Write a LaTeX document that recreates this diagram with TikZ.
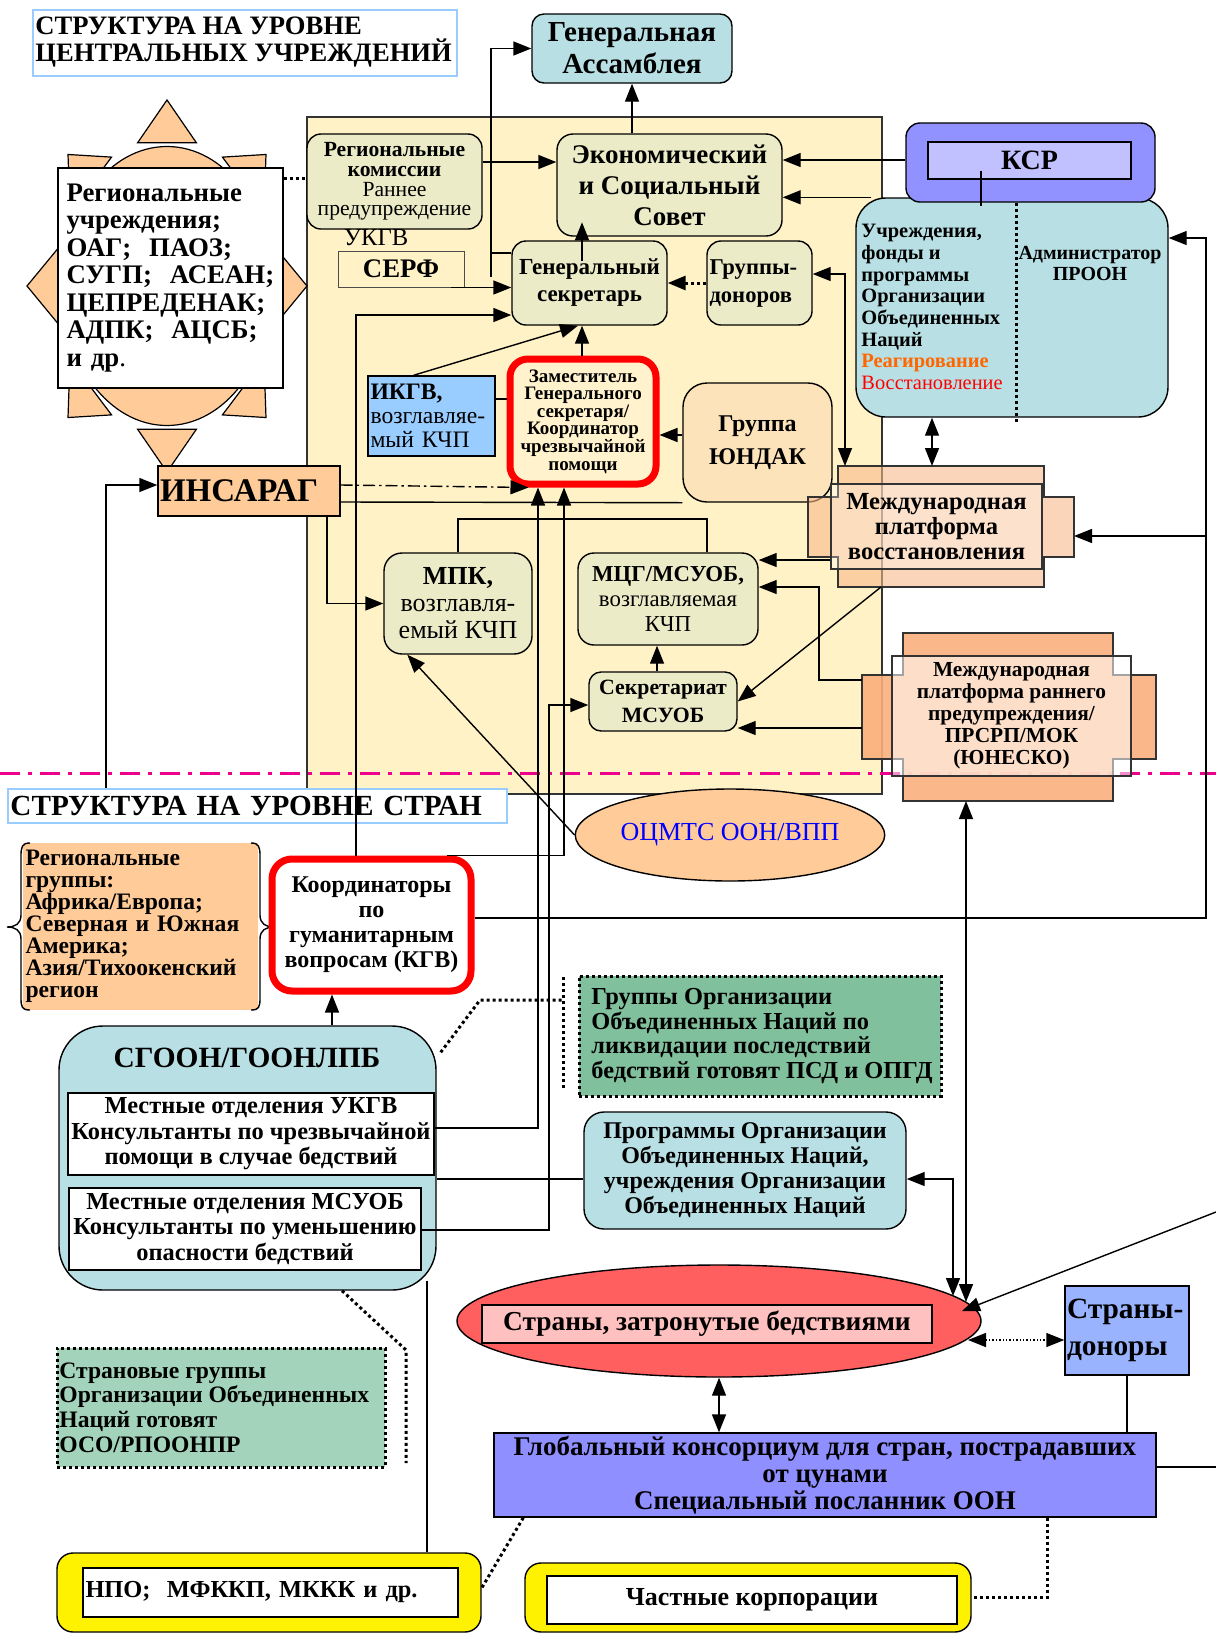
\documentclass[tikz,border=0pt]{standalone}
\usepackage{fontspec}
\setmainfont{Liberation Serif}
\usetikzlibrary{arrows.meta,shapes.geometric}

\newcommand{\fsz}[2]{\fontsize{#1}{#2}\selectfont}

\definecolor{panel}{HTML}{FFF2C7}
\definecolor{tealbox}{HTML}{B8E0E4}
\definecolor{khakibox}{HTML}{EBEBC8}
\definecolor{peach}{HTML}{FFCC99}
\definecolor{ksrdark}{HTML}{9191FF}
\definecolor{ksrlight}{HTML}{C1C1FF}
\definecolor{ikgvblue}{HTML}{99CCFF}
\definecolor{undac}{HTML}{FDE3BA}
\definecolor{depcream}{HTML}{FFF2CC}
\definecolor{mpvfill}{HTML}{F9B98A}
\definecolor{pprpfill}{HTML}{FAAF7C}
\definecolor{ungreen}{HTML}{80C09C}
\definecolor{cgreen}{HTML}{A3D4BB}
\definecolor{affred}{HTML}{FF5F5F}
\definecolor{affpink}{HTML}{FFC0C0}
\definecolor{donorblue}{HTML}{99B3FF}
\definecolor{globblue}{HTML}{8F8FFF}
\definecolor{titleblue}{HTML}{99CCFF}
\definecolor{reagorange}{HTML}{FF6600}
\definecolor{linkblue}{HTML}{0000FF}

\tikzset{
  box/.style={draw=black, line width=0.7pt, align=center, inner sep=1pt},
  rbox/.style={box, rounded corners=7pt},
  redbox/.style={box, draw=red, line width=3.5pt, rounded corners=9pt},
  titlebox/.style={draw=titleblue, line width=1pt, align=left, inner sep=1pt},
  crossfill/.style={draw=black!80, line width=0.6pt},
  arr/.style={line width=0.7pt, -{Triangle[length=9pt,width=7pt]}},
  dbl/.style={line width=0.7pt, {Triangle[length=9pt,width=7pt]}-{Triangle[length=9pt,width=7pt]}},
  dots/.style={line width=1.5pt, dash pattern=on 1.5pt off 1.5pt},
  link/.style={line width=0.7pt}
}

\begin{document}
\begin{tikzpicture}[x=0.5pt,y=-0.5pt]
\useasboundingbox (0,0) rectangle (1216,1634);

% central level panel
\filldraw[fill=panel, draw=black!80, line width=0.7pt] (307,117) rectangle (882,794);
\draw[magenta, line width=1.5pt, dash pattern=on 10pt off 4pt on 2pt off 4pt] (0,773) -- (1216,773);

% sun
\begin{scope}[shift={(167,286)}, xscale=140, yscale=186]
  \foreach \a in {0,45,...,315}
    \filldraw[fill=peach, draw=black, line width=0.6pt]
      ({cos(\a)},{sin(\a)}) -- ({0.77*cos(\a)-0.21*sin(\a)},{0.77*sin(\a)+0.21*cos(\a)})
      -- ({0.77*cos(\a)+0.21*sin(\a)},{0.77*sin(\a)-0.21*cos(\a)}) -- cycle;
  \filldraw[fill=peach, draw=black, line width=0.6pt] (0,0) circle (0.75);
\end{scope}
\node[box, fill=white, minimum width=112.5pt, minimum height=110pt, text width=104pt, align=left,
  font=\fsz{13.4}{13.75}\bfseries] (regbox) at (170.5,278)
  {Региональные\\учреждения;\\ОАГ;~~ПАОЗ;\\СУГП;~~АСЕАН;\\ЦЕПРЕДЕНАК;\\АДПК;~~АЦСБ;\\и др{\mdseries .}};

\node[titlebox, minimum width=212pt, minimum height=33pt] (title1) at (245,43) {};
\node[anchor=west, align=left, inner sep=0pt, font=\fsz{13.3}{13.5}\bfseries] (title1txt) at (35,42)
  {СТРУКТУРА НА УРОВНЕ\\ЦЕНТРАЛЬНЫХ УЧРЕЖДЕНИЙ};
\node[rbox, fill=tealbox, rounded corners=6pt, minimum width=100pt, minimum height=34.5pt,
  font=\fsz{14.5}{16}\bfseries] (ga) at (632,48.5) {Генеральная\\Ассамблея};
\node[rbox, fill=khakibox, minimum width=87.5pt, minimum height=47.5pt, font=\fsz{10.8}{9.8}] (regkom) at (394.5,181.5)
  {\textbf{Региональные}\\\textbf{комиссии}\\Раннее\\предупреждение};
\node[font=\fsz{12.3}{12.3}, inner sep=0pt] (ukgv) at (376,238) {УКГВ};
\node[box, draw=black!70, line width=0.5pt, minimum width=63pt, minimum height=18pt,
  font=\fsz{13.4}{13.4}\bfseries] (serf) at (401,269) {СЕРФ};
\node[rbox, fill=khakibox, rounded corners=8pt, minimum width=112.5pt, minimum height=51pt,
  font=\fsz{13.5}{15.5}\bfseries] (ecosoc) at (669.5,185) {Экономический\\и Социальный\\Совет};
\node[rbox, fill=khakibox, minimum width=77.5pt, minimum height=42pt,
  font=\fsz{11.5}{13.5}\bfseries] (gs) at (589.5,283) {Генеральный\\секретарь};
\node[rbox, fill=khakibox, minimum width=52.5pt, minimum height=42pt, text width=50pt, align=left,
  font=\fsz{11.3}{14}\bfseries] (gd) at (759.5,283) {Группы-\\доноров};

% agencies and ERC
\node[box, fill=tealbox, rounded corners=15pt, minimum width=156pt, minimum height=109.5pt] (ucr) at (1012,307.5) {};
\draw[dots] (ucr.north -| 1016,0) -- (1016,422);
\node[anchor=north west, inner sep=0pt, align=left, font=\fsz{10.2}{10.85}\bfseries] (ucrl) at (861,224)
  {Учреждения,\\фонды и\\программы\\Организации\\Объединенных\\Наций\\\textcolor{reagorange}{Реагирование}\\{\mdseries\color{red}Восстановление}};
\node[inner sep=0pt, align=center, font=\fsz{10}{10.5}\bfseries] (ucrr) at (1090,263) {Администратор\\ПРООН};
\node[box, fill=ksrdark, rounded corners=7pt, minimum width=124.5pt, minimum height=39.5pt] (ksr) at (1030.5,162.5) {};
\node[box, fill=ksrlight, minimum width=101.5pt, minimum height=18.5pt, font=\fsz{14}{14}\bfseries] (ksrin) at (1029.5,160.5) {КСР};

\node[box, fill=ikgvblue, minimum width=63.5pt, minimum height=40pt, text width=61pt, align=left,
  font=\fsz{11.8}{12}] (ikgv) at (431.5,416) {\textbf{ИКГВ,}\\возглавляе-\\мый КЧП};
\node[redbox, fill=depcream, minimum width=73pt, minimum height=62.5pt, font=\fsz{9.5}{8.8}\bfseries] (dep) at (583,421.5)
  {Заместитель\\Генерального\\секретаря/\\Координатор\\чрезвычайной\\помощи};
\node[rbox, fill=undac, rounded corners=12pt, minimum width=74.5pt, minimum height=59.5pt,
  font=\fsz{12}{16.5}\bfseries] (yundak) at (757.5,442.5) {Группа\\ЮНДАК};

% platforms
\filldraw[crossfill, fill=mpvfill, fill opacity=0.6] (838,466) -- (1044,466) -- (1044,497) -- (1074,497)
  -- (1074,557) -- (1044,557) -- (1044,587) -- (838,587) -- (838,557) -- (808,557) -- (808,497) -- (838,497) -- cycle;
\node[draw=black!80, line width=0.6pt, fill=white, fill opacity=0.3, text opacity=1, minimum width=105.5pt,
  minimum height=42.5pt, inner sep=0pt, align=center, font=\fsz{12.3}{12.5}\bfseries] (mpv) at (936.5,526.5)
  {Международная\\платформа\\восстановления};
\filldraw[crossfill, fill=pprpfill, fill opacity=0.9] (903,633) -- (1113,633) -- (1113,675) -- (1156,675)
  -- (1156,759) -- (1113,759) -- (1113,801) -- (903,801) -- (903,759) -- (862,759) -- (862,675) -- (903,675) -- cycle;
\node[draw=black!80, line width=0.6pt, fill=white, fill opacity=0.55, text opacity=1, minimum width=119.5pt,
  minimum height=60pt, inner sep=0pt, align=center, font=\fsz{10.7}{11}\bfseries] (pprp) at (1011.5,716)
  {Международная\\платформа раннего\\предупреждения/\\ПРСРП/МОК\\(ЮНЕСКО)};

\node[box, fill=peach, minimum width=91pt, minimum height=25pt, text width=89pt, align=left,
  font=\fsz{16.5}{16.5}\bfseries] (insarag) at (249,491) {ИНСАРАГ};
\node[rbox, fill=khakibox, rounded corners=9pt, minimum width=74pt, minimum height=50.5pt,
  font=\fsz{13}{13.5}] (mpk) at (458,603.5) {\textbf{МПК,}\\возглавля-\\емый КЧП};
\node[rbox, fill=khakibox, rounded corners=8pt, minimum width=90pt, minimum height=46pt,
  font=\fsz{11.4}{12.5}] (mcg) at (668,599) {\textbf{МЦГ/МСУОБ,}\\возглавляемая\\КЧП};
\node[rbox, fill=khakibox, rounded corners=6pt, minimum width=74pt, minimum height=29.5pt,
  font=\fsz{10.9}{14}\bfseries] (sec) at (663,701.5) {Секретариат\\МСУОБ};

% country level
\node[titlebox, fill=white, minimum width=249.5pt, minimum height=17pt, text width=247pt,
  font=\fsz{14.6}{14.6}\bfseries] (title2) at (257.5,806) {СТРУКТУРА НА УРОВНЕ СТРАН};
\node[ellipse, draw=black, line width=0.7pt, fill=peach, minimum width=150pt, minimum height=46pt, inner sep=0pt,
  font=\fsz{13}{13}, text=linkblue] (oc) at (730,835) {ОЦМТС ООН/ВПП};

\node[fill=peach, minimum width=117.5pt, minimum height=83.5pt, text width=115pt, align=left, inner sep=1pt,
  font=\fsz{11.8}{11}\bfseries] (reggr) at (140.5,926.5)
  {Региональные\\группы:\\Африка/Европа;\\Северная и Южная\\Америка;\\Азия/Тихоокенский\\регион};
\draw[link] (30,843) .. controls (22,843) and (21,847) .. (21,856) -- (21,915) .. controls (21,924) and (15,927) .. (7,927)
  .. controls (15,927) and (21,930) .. (21,939) -- (21,998) .. controls (21,1007) and (22,1010) .. (30,1010);
\draw[link] (251,843) .. controls (259,843) and (260,847) .. (260,856) -- (260,915) .. controls (260,924) and (266,927) .. (274,927)
  .. controls (266,927) and (260,930) .. (260,939) -- (260,998) .. controls (260,1007) and (259,1010) .. (251,1010);

\node[redbox, fill=white, rounded corners=10pt, minimum width=99.5pt, minimum height=66pt,
  font=\fsz{12}{12.5}\bfseries] (kgv) at (371.5,925) {Координаторы\\по\\гуманитарным\\вопросам (КГВ)};

\node[box, fill=tealbox, rounded corners=22pt, minimum width=188.5pt, minimum height=132pt] (sgoon) at (247.5,1158) {};
\node[font=\fsz{14.7}{14.7}\bfseries, inner sep=0pt] (sgoonttl) at (247,1058) {СГООН/ГООНЛПБ};
\node[box, fill=white, minimum width=183pt, minimum height=41pt, font=\fsz{12.2}{12.7}\bfseries] (loc1) at (251,1134)
  {Местные отделения УКГВ\\Консультанты по чрезвычайной\\помощи в случае бедствий};
\node[box, fill=white, minimum width=176pt, minimum height=41pt, font=\fsz{12.2}{12.7}\bfseries] (loc2) at (245,1229)
  {Местные отделения МСУОБ\\Консультанты по уменьшению\\опасности бедствий};

\node[fill=ungreen, draw=black, dots, minimum width=181pt, minimum height=60pt] (ungr) at (760,1036) {};
\node[anchor=west, align=left, inner sep=0pt, font=\fsz{12.2}{12.2}\bfseries] (ungrtxt) at (591,1036)
  {Группы Организации\\Объединенных Наций по\\ликвидации последствий\\бедствий готовят ПСД и ОПГД};
\node[rbox, fill=tealbox, rounded corners=10pt, minimum width=161pt, minimum height=58.5pt,
  font=\fsz{12}{12.5}\bfseries] (prog) at (745,1170.5)
  {Программы Организации\\Объединенных Наций,\\учреждения Организации\\Объединенных Наций};

\node[ellipse, draw=black, line width=0.7pt, fill=affred, minimum width=262pt, minimum height=56pt, inner sep=0pt] (aff) at (719,1321) {};
\node[box, fill=affpink, minimum width=225pt, minimum height=19pt, font=\fsz{13.7}{13.7}\bfseries] (affin) at (707,1324)
  {Страны, затронутые бедствиями};
\node[box, fill=donorblue, minimum width=62pt, minimum height=44.5pt, text width=60pt, align=left,
  font=\fsz{14.7}{18.5}\bfseries] (donors) at (1127,1330.5) {Страны-\\доноры};
\node[box, fill=globblue, minimum width=331pt, minimum height=42pt, font=\fsz{13.5}{13.5}\bfseries] (glob) at (825,1475)
  {Глобальный консорциум для стран, пострадавших\\от цунами\\Специальный посланник ООН};
\node[fill=cgreen, draw=black, dots, minimum width=164pt, minimum height=59.5pt] (cgr) at (221,1407.5) {};
\node[anchor=west, align=left, inner sep=0pt, font=\fsz{11.8}{12.3}\bfseries] (cgrtxt) at (59,1407.5)
  {Страновые группы\\Организации Объединенных\\Наций готовят\\ОСО/РПООНПР};

\node[box, fill=yellow, rounded corners=8pt, minimum width=212pt, minimum height=39.5pt] (ngo) at (269,1592.5) {};
\node[box, fill=white, minimum width=187.5pt, minimum height=24.5pt, text width=185pt, align=left,
  font=\fsz{12.2}{12.2}\bfseries] (ngoin) at (270.5,1592.5) {НПО;~~МФККП, МККК и др.};
\node[box, fill=yellow, rounded corners=8pt, minimum width=223pt, minimum height=34.5pt] (corp) at (748,1597.5) {};
\node[box, fill=white, minimum width=205pt, minimum height=24pt, font=\fsz{13}{13}\bfseries] (corpin) at (752,1600)
  {Частные корпорации};

% connectors
\draw[arr] (ga.south |- ecosoc.north) -- (ga.south);
\draw[arr] (491,277) |- (ga.west);
\draw[link] (491,253) -- (gs.west |- 0,253);
\draw[arr] (regkom.east |- 0,162) -- (ecosoc.west |- 0,162);
\draw[dots] (regbox.east |- 0,178) -- (regkom.west |- 0,178);
\draw[arr] ([xshift=-7pt]serf.south east) -- (gs.west |- serf.south);
\draw[arr] (gs.north -| 582,0) ++(0,21) -- ++(0,-39);
\draw[arr] (dep.north -| 582,0) -- (gs.south -| 582,0);
\draw[arr] ([xshift=-9pt]ikgv.north) -- (gs.south -| 578,0);
\draw[link] (ikgv.east |- 0,399) -- (dep.west |- 0,399);
\draw[arr, dots] (gd.west) -- (gs.east);
\draw[arr] (ksr.west |- 0,160) -- (ecosoc.east |- 0,160);
\draw[arr] ([xshift=8pt]ucr.north west) -- (ecosoc.east |- ucr.north);
\draw[link] (ksrin.south -| 981,0) ++(0,-9) -- ++(0,35);
\draw[dbl] (gd.east |- 0,274) -| (845,466);
\draw[dbl] (ucr.south -| 932,0) -- (932,466);
\draw[arr] (kgv.east |- 0,918) -| (1206,238) -- (ucr.east |- 0,238);
\draw[arr] (1206,536) -- (1074,536);
\draw[arr] (yundak.west |- 0,435) -- (dep.east |- 0,435);
\draw[arr] (title2.north -| 106,0) |- (insarag.west |- 0,485);
\draw[arr, dash pattern=on 6pt off 2pt on 1.2pt off 2pt] (insarag.east |- 0,485) -- ([xshift=11pt]dep.south west);
\draw[link] (insarag.east |- 0,502) -- (yundak.south west);
\draw[arr] (insarag.south -| 327,0) |- (mpk.west);
\draw[link] (mpk.north) |- (707,519) -- (mcg.north -| 707,0);
\draw[arr] (loc1.east |- 0,1128) -| ([xshift=-22.5pt]dep.south);
\draw[arr] ([xshift=-14pt]kgv.north east) -| ([xshift=-9.5pt]dep.south);
\draw[arr] (kgv.north -| 356,0) |- (gs.west |- 0,315);
\draw[arr] (loc2.east |- 0,1230) -| (549,705) -- (sec.west |- 0,705);
\draw[link] (sgoon.east |- 0,1179) -- (prog.west |- 0,1179);
\draw[arr] (sgoon.north -| 332,0) -- (kgv.south -| 332,0);
\draw[dots] (sgoon.north east) ++(4,27) -- (480,1000) -- (563,1000);
\draw[dots] (563,977) -- (563,1090);
\draw[arr] (oc.west) -- ([xshift=12pt]mpk.south west);
\draw[arr] (mpv.west |- 0,560) -- (mcg.east |- 0,560);
\draw[arr] (862,680) -| (819,587) -- (mcg.east |- 0,587);
\draw[arr] (881,587) -- (sec.east);
\draw[arr] (862,728) -- (sec.east |- 0,728);
\draw[dbl] (966,801) -- (966,1302);
\draw[dbl] (prog.east |- 0,1179) -| (953,1296);
\draw[arr] (1216,1212) -- (962,1311);
\draw[dbl, densely dotted] (968,1340) -- (donors.west |- 0,1340);
\draw[dbl] (aff.south) -- (glob.north -| aff.south);
\draw[link] (donors.south) -- (donors.south |- glob.north);
\draw[link] (glob.east |- 0,1467) -- (1216,1467);
\draw[dots] ([xshift=15pt]glob.south west) -- (ngo.east |- 0,1588);
\draw[dots] (glob.south -| 1047,0) |- (corp.east);
\draw[link] (sgoon.south -| 427,0) ++(0,-10) -- (ngo.north -| 427,0);
\draw[dots] (sgoon.south -| 342,0) -- (406,1350) -- (406,1463);
\draw[arr] (sec.north -| 657,0) -- (mcg.south -| 657,0);
\end{tikzpicture}
\end{document}
